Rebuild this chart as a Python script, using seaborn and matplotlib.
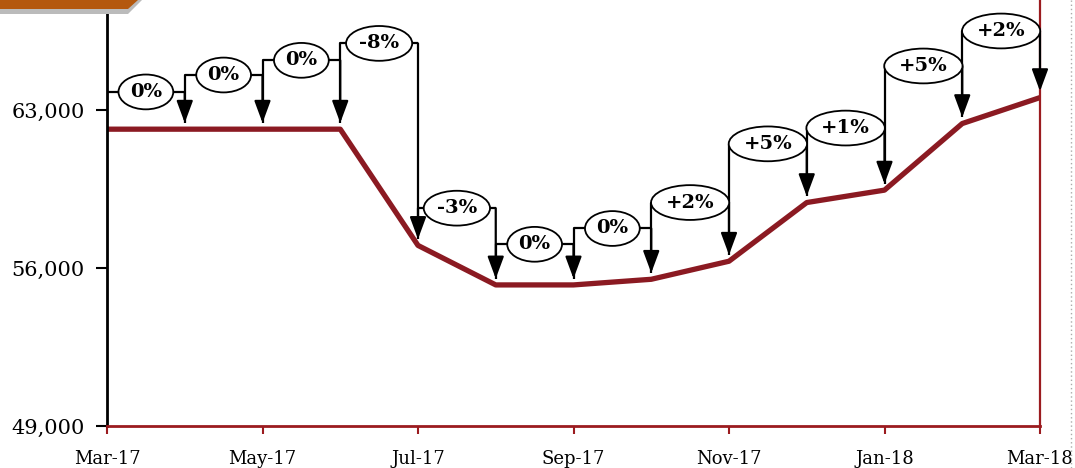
import pandas as pd
import seaborn as sns
import matplotlib.pyplot as plt
from matplotlib.lines import Line2D
from matplotlib.patches import Polygon

months = ["Mar-17", "Apr-17", "May-17", "Jun-17", "Jul-17", "Aug-17", "Sep-17",
          "Oct-17", "Nov-17", "Dec-17", "Jan-18", "Feb-18", "Mar-18"]
values = [62150, 62150, 62150, 62150, 57000, 55250, 55250,
          55500, 56300, 58900, 59450, 62400, 63550]
changes = ["0%", "0%", "0%", "-8%", "-3%", "0%", "0%",
           "+2%", "+5%", "+1%", "+5%", "+2%"]
# height of each change bubble, in chart units
label_levels = [63800, 64550, 65200, 65950, 58650, 57050, 57750,
                58900, 61500, 62200, 64950, 66500]
yticks = [49000, 56000, 63000]

line_color = "#8B1A22"
axis_red = "#9B1B1F"

sns.set_style("white")
plt.rcParams['font.family'] = ['DejaVu Serif', 'DejaVu Sans']

fig = plt.figure(figsize=(10.75, 4.68), dpi=100)
ax = fig.add_axes([107 / 1075, 42 / 468, 933 / 1075, 426 / 468])

df = pd.DataFrame({"month": range(len(months)), "value": values})
sns.lineplot(data=df, x="month", y="value", color=line_color, lw=3.8, ax=ax,
             zorder=2)

gap = 280
for i, (txt, lvl) in enumerate(zip(changes, label_levels)):
    x0, x1 = i, i + 1
    ax.plot([x0, x0, x1], [values[i] + gap, lvl, lvl], color="black",
            lw=1.6, zorder=3, solid_capstyle="butt")
    ax.annotate("", xy=(x1, values[i + 1] + gap), xytext=(x1, lvl),
                arrowprops=dict(arrowstyle="-|>,head_length=1.35,head_width=0.5",
                                color="black", lw=1.6, shrinkA=0, shrinkB=0),
                zorder=3)
    ax.text((x0 + x1) / 2, lvl, txt, ha="center", va="center", fontsize=14,
            fontweight="bold", color="black", zorder=5,
            bbox=dict(boxstyle="ellipse,pad=0.17", fc="white", ec="black",
                      lw=1.3))

ax.set_xlim(0, 12)
ax.set_ylim(49000, 67873)
ax.set_xticks(range(0, len(months), 2))
ax.set_xticklabels(months[::2])
ax.set_yticks(yticks)
ax.set_yticklabels([f"{v:,}" for v in yticks])
ax.set_xlabel("")
ax.set_ylabel("")

ax.tick_params(axis="y", direction="out", length=8, width=1.5, color="black",
               labelsize=15, pad=8, left=True, labelcolor="black")
ax.tick_params(axis="x", direction="out", length=6, width=1.5, color=axis_red,
               labelsize=13, pad=11, bottom=True, labelcolor="black")

ax.spines["top"].set_visible(False)
ax.spines["left"].set_color("black")
ax.spines["left"].set_linewidth(2)
ax.spines["bottom"].set_color(axis_red)
ax.spines["bottom"].set_linewidth(2)
ax.spines["right"].set_color(axis_red)
ax.spines["right"].set_linewidth(1.6)

# slide decoration: title tab and border
fig.patches.append(Polygon([[0, 1], [142 / 1075, 1], [128 / 1075, 454 / 468],
                            [0, 454 / 468]], closed=True,
                           transform=fig.transFigure, fc="#BBBBBB",
                           ec="none", zorder=0))
fig.patches.append(Polygon([[0, 1], [138 / 1075, 1], [128 / 1075, 459 / 468],
                            [0, 459 / 468]], closed=True,
                           transform=fig.transFigure, fc="#B4580E",
                           ec="none", zorder=1))
fig.lines.append(Line2D([1071 / 1075, 1071 / 1075], [0, 1],
                        transform=fig.transFigure, color="#AAAAAA",
                        lw=1, ls=(0, (1, 2))))

fig.savefig("out.png", dpi=100)
